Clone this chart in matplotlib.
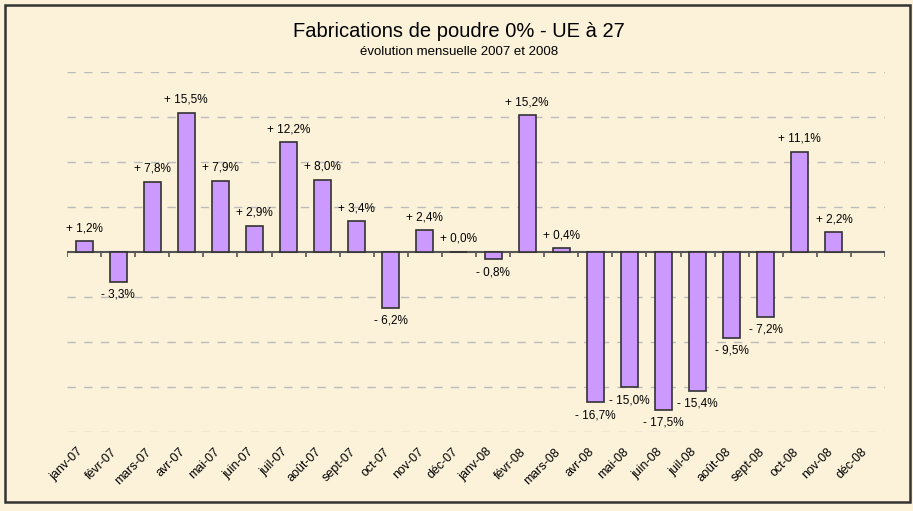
import numpy as np
import matplotlib.pyplot as plt
import matplotlib.transforms as mtransforms
from matplotlib.patches import Rectangle

plt.rcParams['font.family'] = ['Liberation Sans', 'DejaVu Sans']

months = ["janv-07", "févr-07", "mars-07", "avr-07", "mai-07", "juin-07",
          "juil-07", "août-07", "sept-07", "oct-07", "nov-07", "déc-07",
          "janv-08", "févr-08", "mars-08", "avr-08", "mai-08", "juin-08",
          "juil-08", "août-08", "sept-08", "oct-08", "nov-08", "déc-08"]
# variation mensuelle en %, déc-08 pas encore connu
values = [1.2, -3.3, 7.8, 15.5, 7.9, 2.9, 12.2, 8.0, 3.4, -6.2, 2.4, 0.0,
          -0.8, 15.2, 0.4, -16.7, -15.0, -17.5, -15.4, -9.5, -7.2, 11.1, 2.2,
          np.nan]

bg = '#FCF2DA'
fig = plt.figure(figsize=(9.13, 5.11), dpi=100, facecolor=bg)
ax = fig.add_axes([67 / 913, 1 - 432 / 511, 818 / 913, 360 / 511])
ax.set_facecolor(bg)

x = np.arange(len(months))
ax.bar(x, values, width=0.5, color='#CC99FF', edgecolor='#333333',
       linewidth=1.2, zorder=3)

# etiquettes des valeurs
for xi, v in zip(x, values):
    if np.isnan(v):
        continue
    sign = '+' if v >= 0 else '-'
    txt = f"{sign} {abs(v):.1f}%".replace('.', ',')
    off = 9.5 if v >= 0 else -9.5
    ax.annotate(txt, (xi, v), xytext=(0, off), textcoords='offset points',
                ha='center', va='center', fontsize=8.5, color='black',
                zorder=4)

ax.set_xlim(-0.5, len(months) - 0.5)
ax.set_ylim(-20, 20)
ax.set_yticks([-20, -15, -10, -5, 5, 10, 15, 20])
ax.yaxis.grid(True, color='#BBBBBB', linestyle=(0, (6, 6)), linewidth=1)
ax.set_yticklabels([])
ax.tick_params(axis='y', length=0)

# axe horizontal a zero avec petites graduations
ax.axhline(0, color='#555555', linewidth=1.5, zorder=2)
ax.vlines(np.arange(len(months) + 1) - 0.5, -0.6, 0, color='#555555',
          linewidth=1.2, zorder=2)

ax.set_xticks(x)
ax.set_xticklabels(months, rotation=45, ha='right', rotation_mode='anchor',
                   fontsize=9)
ax.tick_params(axis='x', length=0, pad=10)
shift = mtransforms.ScaledTranslation(-7 / 100, 0, fig.dpi_scale_trans)
for lab in ax.get_xticklabels():
    lab.set_transform(lab.get_transform() + shift)
for s in ax.spines.values():
    s.set_visible(False)

fig.text(459 / 913, 1 - 31 / 511, "Fabrications de poudre 0% - UE à 27",
         ha='center', va='center', fontsize=14.5)
fig.text(459 / 913, 1 - 52 / 511, "évolution mensuelle 2007 et 2008",
         ha='center', va='center', fontsize=9.5)

fig.patches.append(Rectangle((5 / 913, 1 - 502 / 511), 905 / 913, 497 / 511,
                             transform=fig.transFigure, fill=False,
                             edgecolor='#333333', linewidth=1.8))

fig.savefig('out.png', dpi=100, facecolor=bg)
